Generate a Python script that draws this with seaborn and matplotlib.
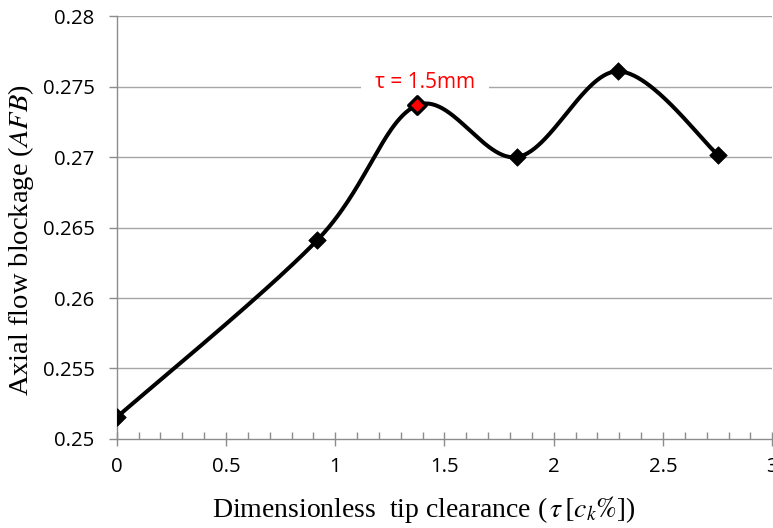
import numpy as np
import pandas as pd
import matplotlib
matplotlib.use("Agg")
import matplotlib.pyplot as plt
from matplotlib.ticker import MultipleLocator, FuncFormatter
import seaborn as sns

# Measured blockage versus dimensionless tip clearance
clearance = [0.0, 0.917, 1.375, 1.834, 2.292, 2.751]
blockage = [0.25154, 0.26409, 0.27367, 0.27000, 0.27608, 0.27017]
highlight_index = 2
highlight_label = "τ = 1.5mm"

x_ticks = [0, 0.5, 1, 1.5, 2, 2.5, 3]
y_ticks = [0.25, 0.255, 0.26, 0.265, 0.27, 0.275, 0.28]

sns.set_theme(style="white")
plt.rcParams["mathtext.fontset"] = "stix"

fig = plt.figure(figsize=(7.73, 5.28), dpi=100)
ax = fig.add_axes([0.151, 0.1686, 0.848, 0.801])
ax.set_xlim(0, 3)
ax.set_ylim(0.25, 0.28)

df = pd.DataFrame({"clearance": clearance, "blockage": blockage})


def smooth_curve(xs, ys, n=60):
    """Excel-style smoothed line: cubic Bezier segments built in screen space."""
    pts = ax.transData.transform(np.column_stack([xs, ys]))
    ext = np.vstack([pts[0], pts, pts[-1]])
    out = []
    t = np.linspace(0, 1, n)[:, None]
    for i in range(len(pts) - 1):
        p0, p1, p2, p3 = ext[i], ext[i + 1], ext[i + 2], ext[i + 3]
        c1 = p1 + (p2 - p0) / 6.0
        c2 = p2 - (p3 - p1) / 6.0
        seg = ((1 - t) ** 3) * p1 + 3 * ((1 - t) ** 2) * t * c1 + 3 * (1 - t) * t ** 2 * c2 + t ** 3 * p2
        out.append(seg if i == 0 else seg[1:])
    curve = ax.transData.inverted().transform(np.vstack(out))
    return pd.DataFrame({"clearance": curve[:, 0], "blockage": curve[:, 1]})


curve_df = smooth_curve(np.array(clearance), np.array(blockage))

# grid lines
for yv in y_ticks[1:]:
    ax.axhline(yv, color="#a6a6a6", lw=1.0, zorder=0)

sns.lineplot(data=curve_df, x="clearance", y="blockage", sort=False, ax=ax,
             color="black", lw=2.9, zorder=3, estimator=None)
sns.scatterplot(data=df, x="clearance", y="blockage", ax=ax, marker="D",
                color="black", s=80, edgecolor="black", linewidth=0.5, zorder=4)
ax.scatter([clearance[highlight_index]], [blockage[highlight_index]], marker="D",
           s=80, color="red", edgecolor="black", linewidth=2.4, zorder=5)

ax.text(1.411, 0.2753, highlight_label, color="red", fontsize=15,
        family=["Open Sans", "DejaVu Sans"], ha="center", va="center", zorder=2,
        bbox=dict(facecolor="white", edgecolor="none", pad=10))

# axes styling
for side in ["top", "right"]:
    ax.spines[side].set_visible(False)
for side in ["left", "bottom"]:
    ax.spines[side].set_color("#8c8c8c")
    ax.spines[side].set_linewidth(1.0)

ax.set_xticks(x_ticks)
ax.set_yticks(y_ticks)
ax.xaxis.set_minor_locator(MultipleLocator(0.1))
fmt = FuncFormatter(lambda v, p: f"{v:g}")
ax.xaxis.set_major_formatter(fmt)
ax.yaxis.set_major_formatter(fmt)
ax.tick_params(axis="x", which="major", direction="inout", length=10, width=1,
               color="#8c8c8c", pad=8, labelsize=14.7, bottom=True)
ax.tick_params(axis="x", which="minor", direction="in", length=5, width=1,
               color="#8c8c8c", bottom=True)
ax.tick_params(axis="y", which="major", direction="out", length=6, width=1,
               color="#8c8c8c", pad=10, labelsize=14.7, left=True)
for lab in ax.get_xticklabels() + ax.get_yticklabels():
    lab.set_family(["Open Sans", "DejaVu Sans"])
    lab.set_color("black")

ax.set_xlabel(r"Dimensionless  tip clearance ($\,\tau\,[c_k\%]$)",
              family="Liberation Serif", fontsize=20, color="black")
ax.set_ylabel(r"Axial flow blockage ($AFB$)",
              family="Liberation Serif", fontsize=20.5, color="black")
ax.xaxis.set_label_coords(0.468, -0.130)
ax.yaxis.set_label_coords(-0.123, 0.469)

fig.savefig("out.png", dpi=100)
